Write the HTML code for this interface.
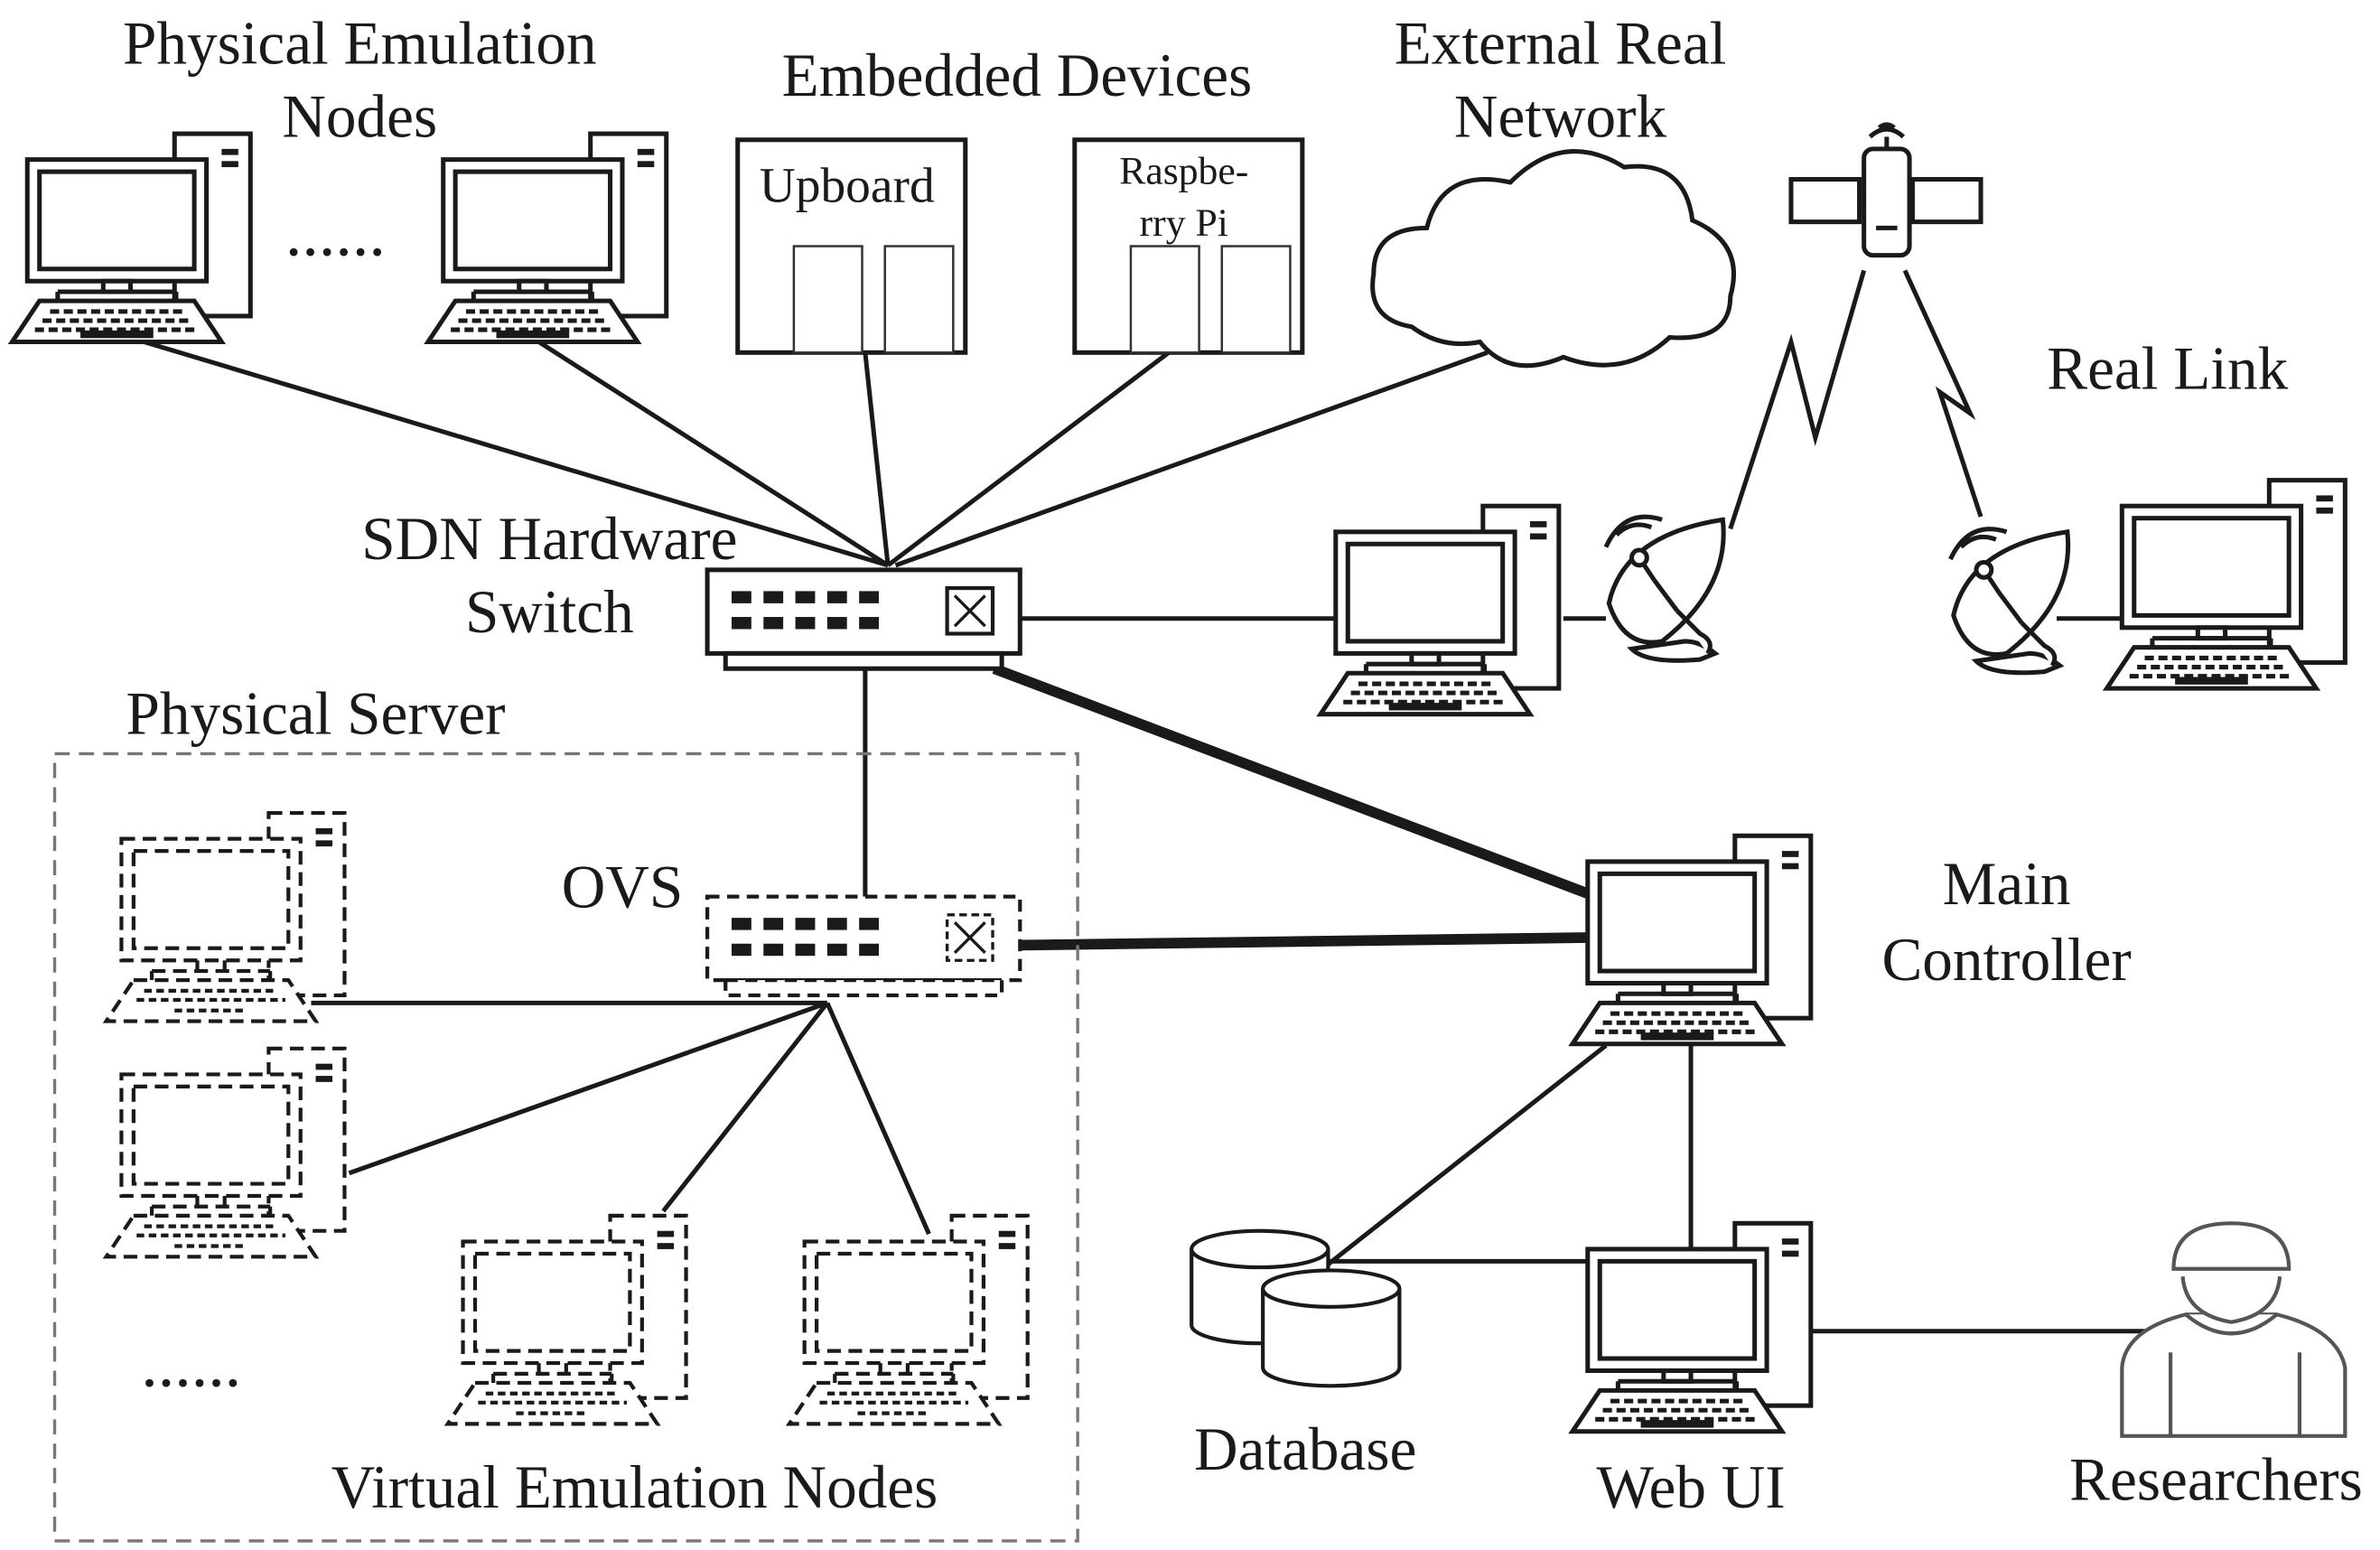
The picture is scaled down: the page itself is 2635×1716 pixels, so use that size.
<!DOCTYPE html>
<html><head><meta charset="utf-8"><style>
html,body{margin:0;padding:0;background:#fff}
svg{display:block}
text{font-family:"Liberation Serif",serif;fill:#1a1a1a}
</style></head><body>
<svg width="2635" height="1716" viewBox="0 0 1568 1020" preserveAspectRatio="none" xmlns="http://www.w3.org/2000/svg">
<defs>
<g id="pc" fill="#fff" stroke="#1a1a1a" stroke-width="3">
<rect x="97" y="0" width="50" height="120"/>
<rect x="128" y="10" width="11" height="4" fill="#1a1a1a" stroke="none"/>
<rect x="128" y="18" width="11" height="4" fill="#1a1a1a" stroke="none"/>
<rect x="0" y="17" width="118" height="80"/>
<rect x="8" y="25" width="102" height="64"/>
<rect x="50" y="97" width="18" height="7"/>
<path d="M20 104 H98 M20 104 v6 M98 104 v6"/>
<polygon points="8,110 110,110 128,137 -10,137"/>
<path d="M15 117 h88 M10 123 h98 M5 129 h108" stroke-dasharray="6 3" stroke-width="3"/>
<path d="M35 132 h48" stroke-width="5"/>
</g>
<g id="vpc" fill="#fff" stroke="#1a1a1a" stroke-width="2.5" stroke-dasharray="9 5">
<rect x="97" y="0" width="50" height="120"/>
<rect x="0" y="17" width="118" height="80"/>
<rect x="8" y="25" width="102" height="64"/>
<path d="M20 104 H98 M20 104 v6 M98 104 v6 M50 97 v7 M68 97 v7"/>
<polygon points="8,110 110,110 128,137 -10,137"/>
<path d="M15 117 h88 M10 123 h98 M35 130 h48" stroke-dasharray="5 3"/>
<rect x="128" y="10" width="11" height="4" fill="#1a1a1a" stroke="none"/>
<rect x="128" y="18" width="11" height="4" fill="#1a1a1a" stroke="none"/>
</g>
<g id="ports" fill="#1a1a1a">
<rect x="16" y="14" width="13" height="8"/><rect x="37" y="14" width="13" height="8"/><rect x="58" y="14" width="13" height="8"/><rect x="79" y="14" width="13" height="8"/><rect x="100" y="14" width="13" height="8"/>
<rect x="16" y="31" width="13" height="8"/><rect x="37" y="31" width="13" height="8"/><rect x="58" y="31" width="13" height="8"/><rect x="79" y="31" width="13" height="8"/><rect x="100" y="31" width="13" height="8"/>
</g>
<g id="chips" fill="#fff" stroke="#333" stroke-width="1.5">
<rect x="0" y="0" width="45" height="70"/><rect x="60" y="0" width="45" height="70"/>
</g>
<g id="dish" fill="#fff" stroke="#1a1a1a" stroke-width="3">
<path d="M25 85 Q35 95 70 92 L80 88 Q70 80 60 80 Z"/>
<path d="M10 55 Q20 10 85 0 Q90 45 45 80 Q20 85 10 55 Z"/>
<path d="M40 40 L30 25 M40 40 L55 60 M55 60 L70 75 Q80 80 75 88"/>
<circle cx="30" cy="25" r="5"/>
<path d="M15 10 Q25 0 38 5 M8 18 Q20 -8 45 0"/>
</g>
</defs>

<g stroke="#1a1a1a" stroke-width="3" fill="none">
<path d="M95 225 L585 372 M355 225 L585 372 M570 232 L585 372 M770 232 L585 372 M980 232 L590 372"/>
<path d="M672 407 H880 M1030 407 H1058 M1355 407 H1398"/>
<path d="M570 440 V590"/>
<path d="M205 660 L545 660 M230 772 L545 660 M437 797 L545 660 M612 812 L545 660"/>
<path d="M1058 688 L875 832 M1114 688 V822 M875 830 H1046 M1190 876 H1420"/>
<path d="M1140 348 L1180 225 L1196 288 L1228 178"/>
<path d="M1255 178 L1298 272 L1278 258 L1305 340"/>
</g>
<g stroke="#1a1a1a" stroke-width="7" fill="none">
<path d="M655 440 L1046 588 M672 622 L1046 617"/>
</g>

<rect x="36" y="496" width="674" height="518" fill="none" stroke="#777" stroke-width="2" stroke-dasharray="10 6"/>

<use href="#pc" transform="translate(18,88)"/>
<use href="#pc" transform="translate(292,88)"/>
<use href="#pc" transform="translate(880,333)"/>
<use href="#pc" transform="translate(1398,316)"/>
<use href="#pc" transform="translate(1046,550)"/>
<use href="#pc" transform="translate(1046,805)"/>
<use href="#vpc" transform="translate(80,535)"/>
<use href="#vpc" transform="translate(80,690)"/>
<use href="#vpc" transform="translate(305,800)"/>
<use href="#vpc" transform="translate(530,800)"/>

<g transform="translate(466,375)">
<rect x="0" y="0" width="206" height="55" fill="#fff" stroke="#1a1a1a" stroke-width="3"/>
<rect x="12" y="55" width="182" height="10" fill="#fff" stroke="#1a1a1a" stroke-width="3"/>
<use href="#ports"/>
<rect x="158" y="12" width="30" height="30" fill="#fff" stroke="#1a1a1a" stroke-width="2.5"/>
<path d="M163 17 L183 37 M183 17 L163 37" stroke="#1a1a1a" stroke-width="2"/>
</g>
<g transform="translate(466,590)">
<rect x="0" y="0" width="206" height="55" fill="#fff" stroke="#1a1a1a" stroke-width="2.5" stroke-dasharray="8 5"/>
<rect x="12" y="55" width="182" height="10" fill="#fff" stroke="#1a1a1a" stroke-width="2.5" stroke-dasharray="8 5"/>
<use href="#ports"/>
<rect x="158" y="12" width="30" height="30" fill="#fff" stroke="#1a1a1a" stroke-width="2" stroke-dasharray="5 3"/>
<path d="M163 17 L183 37 M183 17 L163 37" stroke="#1a1a1a" stroke-width="2"/>
</g>

<rect x="486" y="92" width="150" height="140" fill="#fff" stroke="#1a1a1a" stroke-width="3"/>
<use href="#chips" transform="translate(523,162)"/>
<rect x="708" y="92" width="150" height="140" fill="#fff" stroke="#1a1a1a" stroke-width="3"/>
<use href="#chips" transform="translate(745,162)"/>

<path d="M930 215 Q900 210 905 180 Q905 150 940 150 Q950 110 995 120 Q1030 85 1070 110 Q1110 105 1115 145 Q1150 160 1140 195 Q1140 225 1100 222 Q1070 250 1030 235 Q995 250 975 225 Q950 230 930 215 Z" fill="#fff" stroke="#1a1a1a" stroke-width="3"/>

<g fill="#fff" stroke="#1a1a1a" stroke-width="3">
<rect x="1180" y="118" width="45" height="28"/>
<rect x="1260" y="118" width="45" height="28"/>
<path d="M1225 132 H1260"/>
<rect x="1228" y="98" width="30" height="70" rx="6"/>
<path d="M1236 150 h14" />
<path d="M1232 90 Q1243 80 1254 90 M1238 84 Q1243 80 1248 84"/>
<path d="M1243 90 v8"/>
</g>

<use href="#dish" transform="translate(1050,342)"/>
<use href="#dish" transform="translate(1277,350)"/>

<g fill="#fff" stroke="#1a1a1a" stroke-width="2.5">
<path d="M785 822 V872 A45 12 0 0 0 875 872 V822"/>
<ellipse cx="830" cy="822" rx="45" ry="12"/>
<path d="M832 848 V900 A45 12 0 0 0 922 900 V848"/>
<ellipse cx="877" cy="848" rx="45" ry="12"/>
</g>

<g fill="#fff" stroke="#555" stroke-width="2.5">
<path d="M1398 945 V900 Q1400 875 1440 865 L1500 865 Q1540 875 1545 900 V945 Z"/>
<path d="M1440 865 Q1470 890 1500 865"/>
<path d="M1430 890 V945 M1515 890 V945"/>
<path d="M1438 840 Q1440 865 1470 870 Q1500 865 1502 840"/>
<path d="M1432 835 Q1432 805 1470 805 Q1508 805 1508 835 Z"/>
</g>

<text x="188" y="168" font-size="44">......</text>
<text x="93" y="912" font-size="44">......</text>

<g font-size="40">
<text x="237" y="42" text-anchor="middle">Physical Emulation</text>
<text x="237" y="90" text-anchor="middle">Nodes</text>
<text x="670" y="63" text-anchor="middle">Embedded Devices</text>
<text x="1028" y="42" text-anchor="middle">External Real</text>
<text x="1028" y="90" text-anchor="middle">Network</text>
<text x="1428" y="256" text-anchor="middle">Real Link</text>
<text x="362" y="368" text-anchor="middle">SDN Hardware</text>
<text x="362" y="416" text-anchor="middle">Switch</text>
<text x="208" y="483" text-anchor="middle">Physical Server</text>
<text x="410" y="597" text-anchor="middle">OVS</text>
<text x="1322" y="595" text-anchor="middle">Main</text>
<text x="1322" y="645" text-anchor="middle">Controller</text>
<text x="418" y="992" text-anchor="middle">Virtual Emulation Nodes</text>
<text x="860" y="967" text-anchor="middle">Database</text>
<text x="1114" y="992" text-anchor="middle">Web UI</text>
<text x="1460" y="987" text-anchor="middle">Researchers</text>
</g>
<text x="558" y="133" font-size="33" text-anchor="middle">Upboard</text>
<text x="780" y="121" font-size="26" text-anchor="middle">Raspbe-</text>
<text x="780" y="155" font-size="26" text-anchor="middle">rry Pi</text>
</svg>
</body></html>
